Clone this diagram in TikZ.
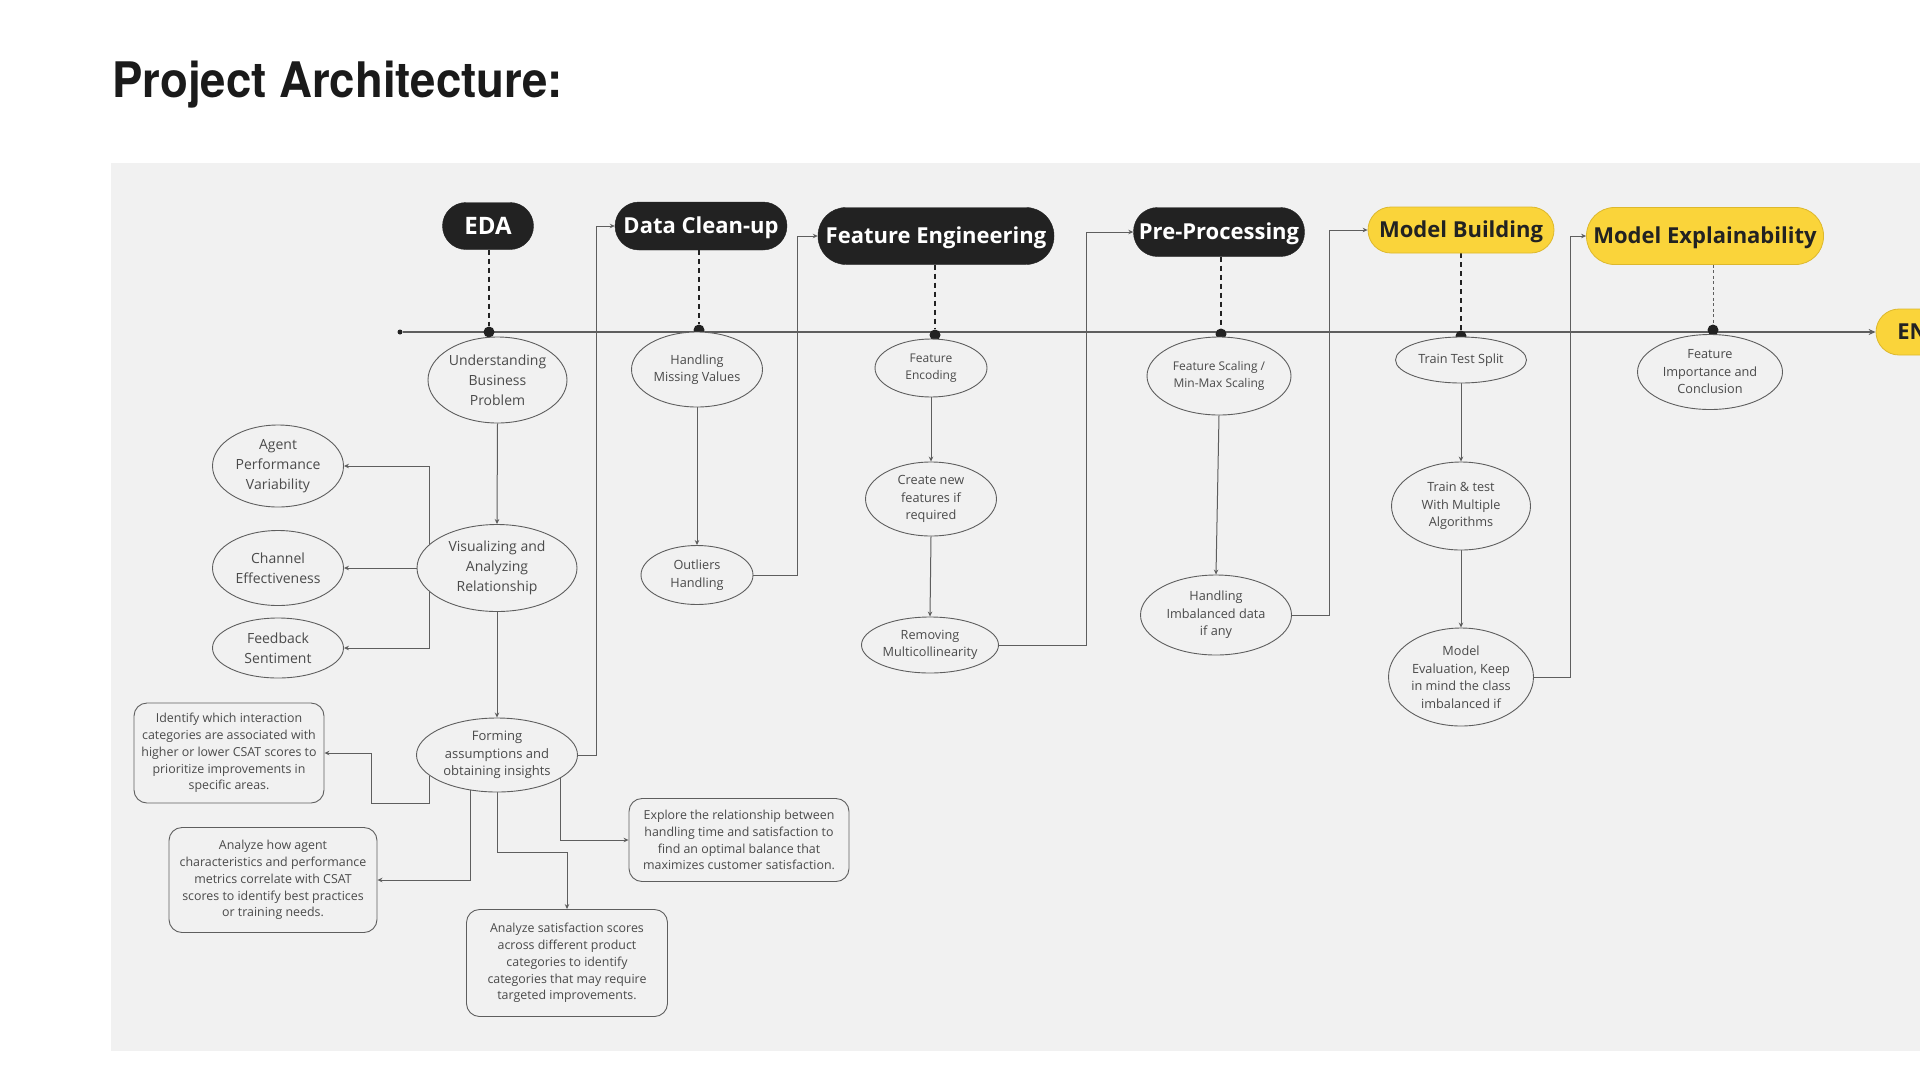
\documentclass[tikz,border=0pt]{standalone}
\usepackage{fontspec}
\setmainfont{Open Sans}
\newfontfamily\titlefont{TeX Gyre Heros}
\usetikzlibrary{shapes.geometric,arrows.meta,backgrounds,calc}

\definecolor{panel}{HTML}{F1F1F1}
\definecolor{hdrblack}{HTML}{222222}
\definecolor{hdryellow}{HTML}{FAD43A}
\definecolor{yellowedge}{HTML}{DDB82C}
\definecolor{linegray}{HTML}{5E5E5E}
\definecolor{txtgray}{HTML}{4A4A4A}
\definecolor{titleblack}{HTML}{1A1A1A}

\tikzset{
  darkhdr/.style={rectangle, fill=hdrblack, draw=hdrblack, text=white, inner sep=0pt,
    text height=15.7pt, text depth=0pt, font=\fontsize{22}{26}\selectfont\bfseries},
  yelhdr/.style={rectangle, fill=hdryellow, draw=yellowedge, line width=0.8pt, text=hdrblack, inner sep=0pt,
    text height=15.7pt, text depth=0pt, font=\fontsize{22}{26}\selectfont\bfseries},
  ell/.style={ellipse, draw=linegray, line width=0.9pt, fill=panel, inner sep=0pt, align=center,
    text=txtgray, font=\fontsize{12.7}{17.5}\selectfont},
  ellbig/.style={ell, font=\fontsize{14}{20}\selectfont},
  note/.style={rectangle, rounded corners=13pt, draw=linegray, line width=0.9pt, fill=panel,
    inner sep=0pt, align=center, text=txtgray, font=\fontsize{12.4}{16.8}\selectfont},
  conn/.style={draw=linegray, line width=1pt, -{Stealth[length=5pt,width=4.5pt]}},
  dashconn/.style={draw=hdrblack, line width=1.3pt, dash pattern=on 5pt off 4pt},
  dotmark/.style={circle, fill=hdrblack, inner sep=0pt, minimum size=11pt},
  mainline/.style={draw=linegray, line width=2pt, -{Stealth[length=7pt,width=6pt]}},
}

\begin{document}
\begin{tikzpicture}[x=1pt,y=-1pt]
\useasboundingbox (0,0) rectangle (1920,1080);
\clip (0,0) rectangle (1920,1080);

% title
\node[anchor=base west, inner sep=0pt, text=titleblack] (title) at (112,97)
  {\titlefont\fontsize{49}{55}\selectfont\bfseries\scalebox{0.93}[1]{Project Architecture:}};

% stage headers
\node[darkhdr, rounded corners=23.5pt, minimum width=91pt, minimum height=47pt,
      text height=17pt, font=\fontsize{24}{28}\selectfont\bfseries] (EDA) at (488,226) {EDA};
\node[darkhdr, rounded corners=24pt, minimum width=172pt, minimum height=48pt] (DC) at (701,226) {Data Clean-up};
\node[darkhdr, rounded corners=28pt, minimum width=236pt, minimum height=57pt] (FEng) at (936,236) {Feature Engineering};
\node[darkhdr, rounded corners=24pt, minimum width=171pt, minimum height=49pt] (PP) at (1219,232) {Pre-Processing};
\node[yelhdr, rounded corners=23pt, minimum width=186pt, minimum height=46pt] (MB) at (1461,230) {Model Building};
\node[yelhdr, rounded corners=28pt, minimum width=237pt, minimum height=57pt] (MEx) at (1705,236) {Model Explainability};
\node[yelhdr, rounded corners=23pt, minimum width=89pt, minimum height=46pt] (END) at (1920.5,332) {END};

% timeline dots
\node[circle, fill=hdrblack, inner sep=0pt, minimum size=5pt] (start) at (400,332) {};
\node[dotmark] (dEDA) at (489,332) {};
\node[dotmark] (dDC) at (699,330) {};
\node[dotmark] (dFEng) at (935,335) {};
\node[dotmark] (dPP) at (1221,334) {};
\node[dotmark] (dMB) at (1461,336) {};
\node[dotmark] (dMEx) at (1713,330) {};

% EDA column
\node[ellbig, minimum width=139pt, minimum height=86pt] (UBP) at (497.5,380) {Understanding\\Business\\Problem};
\node[ellbig, minimum width=160pt, minimum height=87pt] (VAR) at (497,568) {Visualizing and\\Analyzing\\Relationship};
\node[ellbig, minimum width=131pt, minimum height=82pt] (APV) at (278,466) {Agent\\Performance\\Variability};
\node[ellbig, minimum width=131pt, minimum height=75pt] (CE) at (278,568) {Channel\\Effectiveness};
\node[ellbig, minimum width=131pt, minimum height=60pt] (FdS) at (278,648) {Feedback\\Sentiment};
\node[ell, font=\fontsize{13}{17.5}\selectfont, minimum width=161pt, minimum height=74pt] (FAO) at (497,755) {Forming\\assumptions and\\obtaining insights};

\node[note, minimum width=190pt, minimum height=100pt] (Ident) at (229,753)
  {Identify which interaction\\categories are associated with\\higher or lower CSAT scores to\\prioritize improvements in\\specific areas.};
\node[note, minimum width=208pt, minimum height=105pt] (Agent) at (273,880)
  {Analyze how agent\\characteristics and performance\\metrics correlate with CSAT\\scores to identify best practices\\or training needs.};
\node[note, minimum width=201pt, minimum height=107pt] (Sat) at (567,963)
  {Analyze satisfaction scores\\across different product\\categories to identify\\categories that may require\\targeted improvements.};
\node[note, minimum width=220pt, minimum height=83pt] (Expl) at (739,840)
  {Explore the relationship between\\handling time and satisfaction to\\find an optimal balance that\\maximizes customer satisfaction.};

% Data clean-up column
\node[ell, minimum width=131pt, minimum height=75pt] (HMV) at (697,369.5) {Handling\\Missing Values};
\node[ell, minimum width=112pt, minimum height=59pt] (OH) at (697,575) {Outliers\\Handling};

% Feature engineering column
\node[ell, font=\fontsize{12}{16.5}\selectfont, minimum width=112pt, minimum height=58pt] (FEnc) at (931,368) {Feature\\Encoding};
\node[ell, minimum width=131pt, minimum height=74pt] (CNF) at (931,499) {Create new\\features if\\required};
\node[ell, minimum width=137pt, minimum height=56pt] (RM) at (930,645) {Removing\\Multicollinearity};

% Pre-processing column
\node[ell, font=\fontsize{12}{17.5}\selectfont, minimum width=144pt, minimum height=78pt] (FSc) at (1219,376) {Feature Scaling /\\Min-Max Scaling};
\node[ell, minimum width=151pt, minimum height=80pt] (HI) at (1216,615) {Handling\\Imbalanced data\\if any};

% Model building column
\node[ell, minimum width=131pt, minimum height=46pt] (TTS) at (1461,360) {Train Test Split};
\node[ell, minimum width=139pt, minimum height=88pt] (TT) at (1461,506) {Train \& test\\With Multiple\\Algorithms};
\node[ell, minimum width=145pt, minimum height=98pt] (MEv) at (1461,677) {Model\\Evaluation, Keep\\in mind the class\\imbalanced if};

% Model explainability column
\node[ell, minimum width=145pt, minimum height=75pt] (FIC) at (1710,372) {Feature\\Importance and\\Conclusion};

\begin{scope}[on background layer]
  \fill[panel] (111,163) rectangle (1920,1051);
\end{scope}

\begin{scope}[on background layer]
  % timeline
  \draw[mainline] (start) -- (END.west);
  % dashed stage links
  \draw[dashconn] (dEDA |- EDA.south) -- (dEDA);
  \draw[dashconn] (dDC |- DC.south) -- (dDC);
  \draw[dashconn] (dFEng |- FEng.south) -- (dFEng);
  \draw[dashconn] (dPP |- PP.south) -- (dPP);
  \draw[dashconn] (dMB |- MB.south) -- (dMB);
  \draw[draw=linegray, line width=0.9pt, dash pattern=on 3pt off 2.5pt] (dMEx |- MEx.south) -- (dMEx);

  % EDA flow
  \draw[conn] (UBP.south) -- (VAR.north);
  \draw[conn] (VAR.south) -- (FAO.north);
  \draw[conn] (VAR.west) -- (CE.east);
  \draw[conn] ([xshift=13pt]VAR.west) |- (APV.east);
  \draw[conn] ([xshift=13pt]VAR.west) |- (FdS.east);
  \draw[conn] (FAO.197) |- ($(Ident.east)+(47,50)$) |- (Ident.east);
  \draw[conn] (FAO.233) |- (Agent.east);
  \draw[conn] (FAO.south) -- ++(0,60) -| (Sat.north);
  \draw[conn] (FAO.340) |- (Expl.west);

  % stage hand-offs
  \draw[conn] (FAO.east) -- ++(19,0) |- (DC.west);
  \draw[conn] (OH.east) -- ++(44,0) |- (FEng.west);
  \draw[conn] (RM.east) -- ++(88,0) |- (PP.west);
  \draw[conn] (HI.east) -- ++(38,0) |- (MB.west);
  \draw[conn] (MEv.east) -- ++(37,0) |- (MEx.west);

  % within stages
  \draw[conn] (HMV.south) -- (OH.north);
  \draw[conn] (FEnc.south) -- (CNF.north);
  \draw[conn] (CNF.south) -- (RM.north);
  \draw[conn] (FSc.south) -- (HI.north);
  \draw[conn] (TTS.south) -- (TT.north);
  \draw[conn] (TT.south) -- (MEv.north);
\end{scope}
\end{tikzpicture}
\end{document}
